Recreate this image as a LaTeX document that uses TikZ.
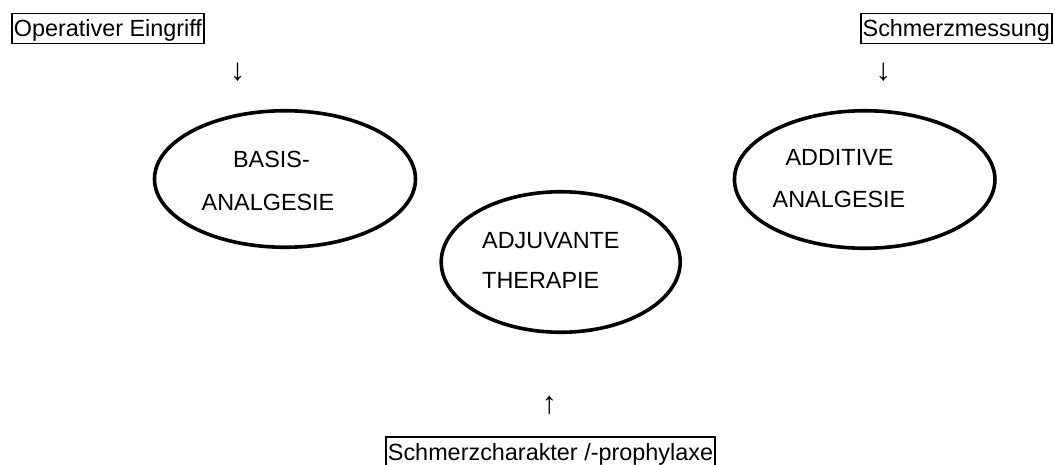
\documentclass[tikz,border=0pt]{standalone}
\usepackage{fontspec}
\setmainfont{Liberation Sans}
\usetikzlibrary{shapes.geometric}
\begin{document}
\begin{tikzpicture}[x=1pt,y=-1pt,
  every node/.style={font=\fontsize{23.4}{28}\selectfont},
  boxed/.style={draw,line width=1.8pt,anchor=base,inner xsep=2pt,inner ysep=3.2pt,text height=20pt,text depth=3.6pt},
  oval/.style={draw,ellipse,line width=3.6pt,inner sep=0pt},
  txt/.style={anchor=base,inner sep=0pt},
  glyph/.style={inner sep=0pt,anchor=center,font=\fontsize{31}{36}\selectfont}]
\useasboundingbox[fill=white] (0,0) rectangle (1055,464);
% top and bottom boxes
\node[boxed] (op) at (107.9,36.7) {Operativer Eingriff};
\node[boxed] (sm) at (956.3,36.7) {Schmerzmessung};
\node[boxed] (sc) at (550.5,460.2) {Schmerzcharakter /-prophylaxe};
% arrow glyphs
\node[glyph] (a1) at (237.7,72.3) {↓};
\node[glyph] (a2) at (883.3,72.3) {↓};
\node[glyph] (a3) at (549.3,405) {↑};
% ellipses
\node[oval,minimum width=261pt,minimum height=136.5pt] (basis) at (285,179) {};
\node[oval,minimum width=260.5pt,minimum height=137.5pt] (add) at (864.7,179.5) {};
\node[oval,minimum width=239pt,minimum height=140.5pt] (adj) at (560.7,262) {};
% ellipse texts
\node[txt] (b1) at (271.5,167) {BASIS-};
\node[txt] (b2) at (268,210) {ANALGESIE};
\node[txt] (d1) at (839.5,165.7) {ADDITIVE};
\node[txt] (d2) at (839,207.7) {ANALGESIE};
\node[txt,anchor=base west] (j1) at (482,248.3) {ADJUVANTE};
\node[txt,anchor=base west] (j2) at (482,288.3) {THERAPIE};
\end{tikzpicture}
\end{document}
